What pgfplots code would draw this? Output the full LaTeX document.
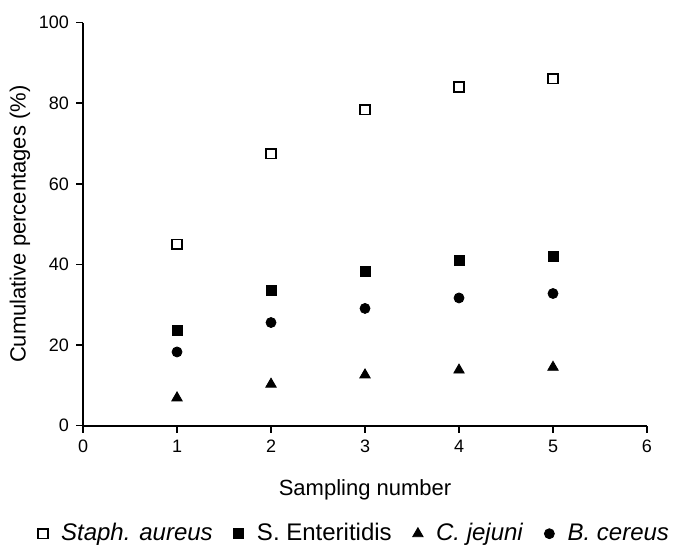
\documentclass[border=0pt]{standalone}
\usepackage{pgfplots}
\pgfplotsset{compat=1.18}
\usepackage{fontspec}
\setmainfont{Liberation Sans}

\pgfplotsset{mylegend/.style={legend image code/.code={%
  \path[draw=none] (0cm,0cm) -- (0.33cm,0cm);
  \draw[##1] plot coordinates {(0.08cm,0cm)};}}}

\begin{document}
\begin{tikzpicture}
\begin{axis}[
  scale only axis,
  width=282pt, height=201.5pt,
  xmin=0, xmax=6, ymin=0, ymax=100,
  xtick={0,1,2,3,4,5,6},
  ytick={0,20,40,60,80,100},
  axis x line*=bottom,
  axis y line*=left,
  axis line style={line width=1pt, black},
  tick style={line width=0.8pt, black},
  tick align=outside,
  major tick length=3.5pt,
  /pgf/number format/assume math mode=true,
  tick label style={font=\fontsize{9}{10}\selectfont},
  xlabel={Sampling number},
  ylabel={Cumulative percentages (\%)},
  label style={font=\fontsize{11}{12}\selectfont},
  xlabel style={at={(axis description cs:0.5,-0.1588)}, anchor=center},
  ylabel style={at={(axis description cs:-0.1117,0.5)}, anchor=center},
  legend columns=4,
  legend style={draw=none, fill=none,
    at={(axis description cs:0.4832,-0.268)}, anchor=center,
    font=\fontsize{12}{13}\selectfont,
    /tikz/every even column/.append style={column sep=8.5pt}},
  clip=false,
]
\addplot[only marks, mylegend, mark=square, mark size=2.4pt, mark options={draw=black, fill=white, line width=0.9pt}]
  coordinates {(1,45.0) (2,67.5) (3,78.4) (4,84.0) (5,86.1)};
\addlegendentry{\textit{Staph. aureus}}
\addplot[only marks, mylegend, mark=square*, mark size=2.5pt, mark options={draw=black, fill=black}]
  coordinates {(1,23.7) (2,33.6) (3,38.2) (4,41.1) (5,41.9)};
\addlegendentry{S. Enteritidis}
\addplot[only marks, mylegend, mark=triangle*, mark size=3pt, mark options={draw=black, fill=black}]
  coordinates {(1,6.9) (2,10.3) (3,12.6) (4,13.8) (5,14.5)};
\addlegendentry{\textit{C. jejuni}}
\addplot[only marks, mylegend, mark=*, mark size=2.5pt, mark options={draw=black, fill=black}]
  coordinates {(1,18.3) (2,25.6) (3,29.1) (4,31.7) (5,32.8)};
\addlegendentry{\textit{B. cereus}}
\path (axis description cs:-0.1472,-0.3077) rectangle (axis description cs:1.0603,1.0563);
\end{axis}
\end{tikzpicture}
\end{document}
